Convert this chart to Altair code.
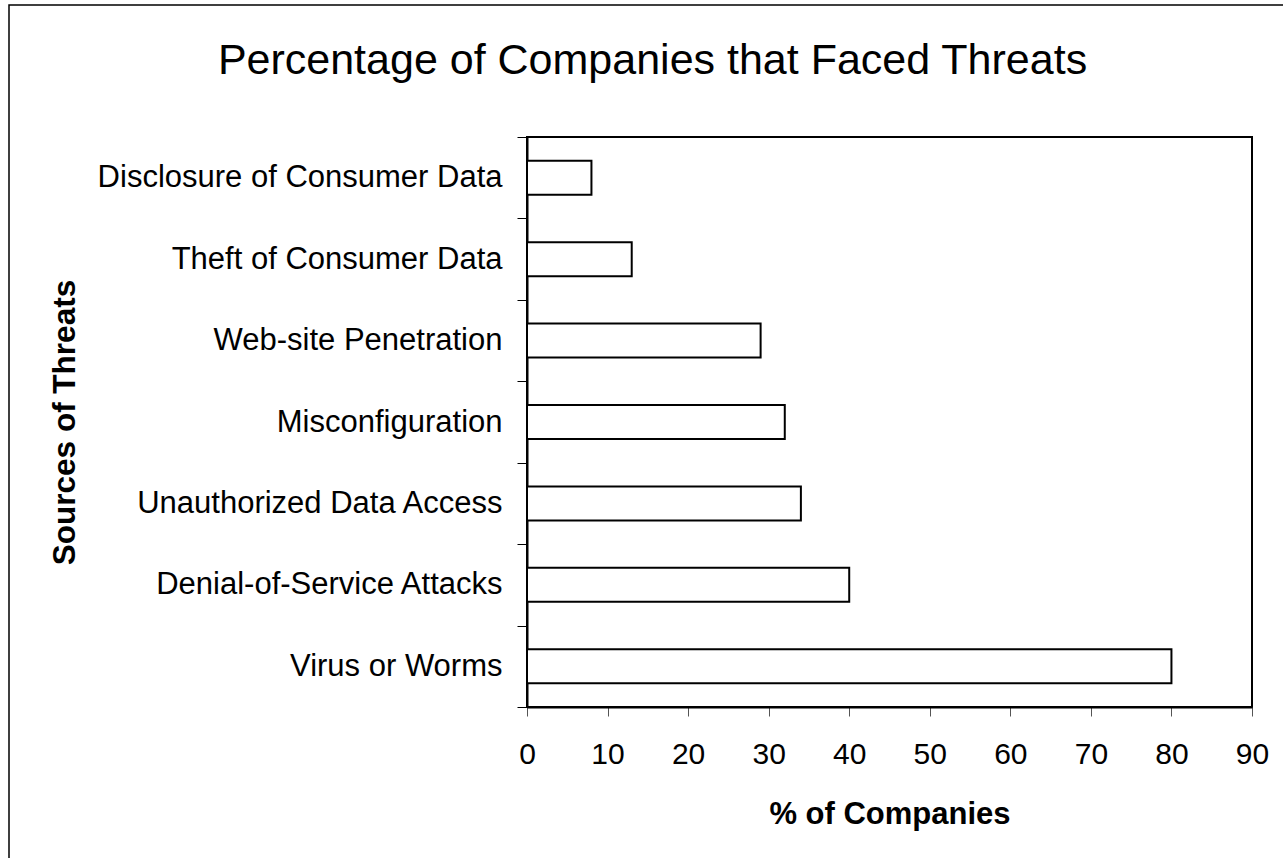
import altair as alt
import pandas as pd

categories = [
    "Disclosure of Consumer Data",
    "Theft of Consumer Data",
    "Web-site Penetration",
    "Misconfiguration",
    "Unauthorized Data Access",
    "Denial-of-Service Attacks",
    "Virus or Worms",
]
values = [8, 13, 29, 32, 34, 40, 80]
x_ticks = [0, 10, 20, 30, 40, 50, 60, 70, 80, 90]

df = pd.DataFrame({"source": categories, "pct": values})

FONT = "Liberation Sans"

bars = alt.Chart(df).mark_bar(
    fill="white", stroke="black", strokeWidth=2,
    height=alt.RelativeBandSize(band=0.4175),
).encode(
    x=alt.X(
        "pct:Q",
        scale=alt.Scale(domain=[0, 90], nice=False),
        axis=alt.Axis(
            values=x_ticks,
            title="% of Companies",
            grid=False,
            domainColor="black",
            domainWidth=2,
            tickColor="#555555",
            tickSize=9,
            tickWidth=1,
            labelFont=FONT,
            labelFontSize=30,
            labelColor="black",
            labelFlush=False,
            labelOverlap=False,
            labelBaseline="alphabetic",
            labelPadding=47,
            titleFont=FONT,
            titleFontSize=31,
            titleFontWeight="bold",
            titleColor="black",
            titleBaseline="alphabetic",
            titleY=116,
        ),
    ),
    y=alt.Y(
        "source:N",
        sort=categories,
        scale=alt.Scale(paddingInner=0, paddingOuter=0),
        axis=alt.Axis(
            title="Sources of Threats",
            tickBand="extent",
            grid=False,
            domainColor="black",
            domainWidth=2,
            tickColor="black",
            tickSize=10,
            tickWidth=1,
            labelFont=FONT,
            labelFontSize=31,
            labelColor="black",
            labelPadding=15,
            labelLimit=600,
            titleFont=FONT,
            titleFontSize=31.5,
            titleFontWeight="bold",
            titleColor="black",
            titleBaseline="alphabetic",
            titleX=-453,
            titleY=285,
        ),
    ),
)

frame = alt.Chart(alt.Data(values=[{"a": 1}])).mark_rect(
    fillOpacity=0, stroke="black", strokeWidth=1.5
).encode(
    x=alt.value(-518),
    x2=alt.value(770),
    y=alt.value(-132),
    y2=alt.value(740),
)

chart = (
    alt.layer(frame, bars)
    .properties(
        width=725,
        height=570,
        title=alt.TitleParams(
            "Percentage of Companies that Faced Threats",
            font=FONT,
            fontSize=43,
            fontWeight="normal",
            color="black",
            anchor="middle",
            baseline="alphabetic",
            offset=0,
            dx=-237,
            dy=113,
        ),
        autosize=alt.AutoSizeParams(type="none"),
        padding={"left": 527, "top": 137, "right": 31, "bottom": 151},
        background="white",
    )
    .configure_view(stroke="black", strokeWidth=2)
)

chart.save("out.html", embed_options={"renderer": "svg", "actions": False})
